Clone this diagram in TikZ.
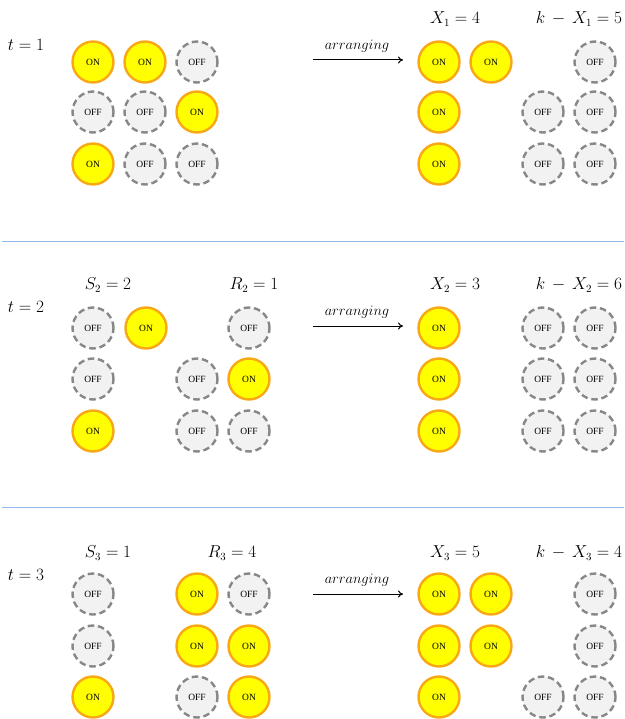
\documentclass[tikz,border=0pt]{standalone}
\usepackage{fontspec}
\newfontfamily\lampfont{Liberation Serif}
\usetikzlibrary{arrows.meta}
\definecolor{onfill}{RGB}{255,255,0}
\definecolor{ondraw}{RGB}{247,168,20}
\definecolor{offfill}{RGB}{242,242,242}
\definecolor{offdraw}{RGB}{135,135,135}
\definecolor{sepcol}{RGB}{150,185,235}
\tikzset{
  lamp/.style={circle, minimum size=41pt, inner sep=0pt, line width=2.4pt, font=\lampfont\fontsize{9.5}{10}\selectfont},
  onlamp/.style={lamp, fill=onfill, draw=ondraw},
  offlamp/.style={lamp, fill=offfill, draw=offdraw, dash pattern=on 6.5pt off 3.8pt},
  lbl/.style={font=\fontsize{16}{17}\selectfont, inner sep=0pt},
  tlbl/.style={font=\fontsize{18}{19}\selectfont, inner sep=0pt},
  arrlbl/.style={font=\fontsize{14.5}{15}\selectfont, inner sep=0pt},
  sep/.style={draw=sepcol, line width=1pt},
  arr/.style={-{To[length=5pt,width=7pt]}, line width=1pt},
}
\newcommand{\lampon}[3]{\node[onlamp] (#1) at (#2,#3) {ON};}
\newcommand{\lampoff}[3]{\node[offlamp] (#1) at (#2,#3) {OFF};}
\begin{document}
\begin{tikzpicture}[x=1pt,y=-1pt]
\useasboundingbox (0,0) rectangle (624,719);
% separators
\coordinate (s1a) at (2,241.5); \coordinate (s1b) at (624,241.5);
\coordinate (s2a) at (2,507.5); \coordinate (s2b) at (624,507.5);
\draw[sep] (s1a) -- (s1b);
\draw[sep] (s2a) -- (s2b);

% ===== t = 1 =====
\node[tlbl] (t1) at (26,45) {$t = 1$};
\node[lbl] (x1) at (455,19) {$X_1 = 4$};
\node[lbl] (k1) at (579,19) {$k \,-\, X_1 = 5$};
\lampon{a11}{93}{62} \lampon{a12}{145}{62} \lampoff{a13}{197}{62}
\lampoff{a21}{93}{112} \lampoff{a22}{145}{112} \lampon{a23}{197}{112}
\lampon{a31}{93}{164} \lampoff{a32}{145}{164} \lampoff{a33}{197}{164}
\coordinate (ar1s) at (313,60); \coordinate (ar1e) at (403,60);
\draw[arr] (ar1s) -- (ar1e);
\node[arrlbl] (al1) at (357,46) {$arranging$};
\lampon{b11}{439}{62} \lampon{b12}{491}{62} \lampoff{b14}{595}{62}
\lampon{b21}{439}{112} \lampoff{b23}{543}{112} \lampoff{b24}{595}{112}
\lampon{b31}{439}{164} \lampoff{b33}{543}{164} \lampoff{b34}{595}{164}

% ===== t = 2 =====
\node[tlbl] (t2) at (26,307) {$t = 2$};
\node[lbl] (s2) at (108,285) {$S_2 = 2$};
\node[lbl] (r2) at (254,285) {$R_2 = 1$};
\node[lbl] (x2) at (455,285) {$X_2 = 3$};
\node[lbl] (k2) at (579,285) {$k \,-\, X_2 = 6$};
\lampoff{c11}{93}{328} \lampon{c12}{146}{328} \lampoff{c14}{249}{328}
\lampoff{c21}{93}{379} \lampoff{c23}{197}{379} \lampon{c24}{249}{379}
\lampon{c31}{93}{431} \lampoff{c33}{197}{431} \lampoff{c34}{249}{431}
\coordinate (ar2s) at (313,326); \coordinate (ar2e) at (403,326);
\draw[arr] (ar2s) -- (ar2e);
\node[arrlbl] (al2) at (357,312) {$arranging$};
\lampon{d11}{439}{328} \lampoff{d13}{543}{328} \lampoff{d14}{595}{328}
\lampon{d21}{439}{379} \lampoff{d23}{543}{379} \lampoff{d24}{595}{379}
\lampon{d31}{439}{431} \lampoff{d33}{543}{431} \lampoff{d34}{595}{431}

% ===== t = 3 =====
\node[tlbl] (t3) at (26,575) {$t = 3$};
\node[lbl] (s3) at (108,553) {$S_3 = 1$};
\node[lbl] (r3) at (232,553) {$R_3 = 4$};
\node[lbl] (x3) at (455,553) {$X_3 = 5$};
\node[lbl] (k3) at (579,553) {$k \,-\, X_3 = 4$};
\lampoff{e11}{93}{594} \lampon{e13}{197}{594} \lampoff{e14}{249}{594}
\lampoff{e21}{93}{646} \lampon{e23}{197}{646} \lampon{e24}{249}{646}
\lampon{e31}{93}{697} \lampoff{e33}{197}{697} \lampon{e34}{249}{697}
\coordinate (ar3s) at (313,594); \coordinate (ar3e) at (403,594);
\draw[arr] (ar3s) -- (ar3e);
\node[arrlbl] (al3) at (357,580) {$arranging$};
\lampon{f11}{439}{594} \lampon{f12}{491}{594} \lampoff{f14}{595}{594}
\lampon{f21}{439}{646} \lampon{f22}{491}{646} \lampoff{f24}{595}{646}
\lampon{f31}{439}{697} \lampoff{f33}{543}{697} \lampoff{f34}{595}{697}
\end{tikzpicture}
\end{document}
